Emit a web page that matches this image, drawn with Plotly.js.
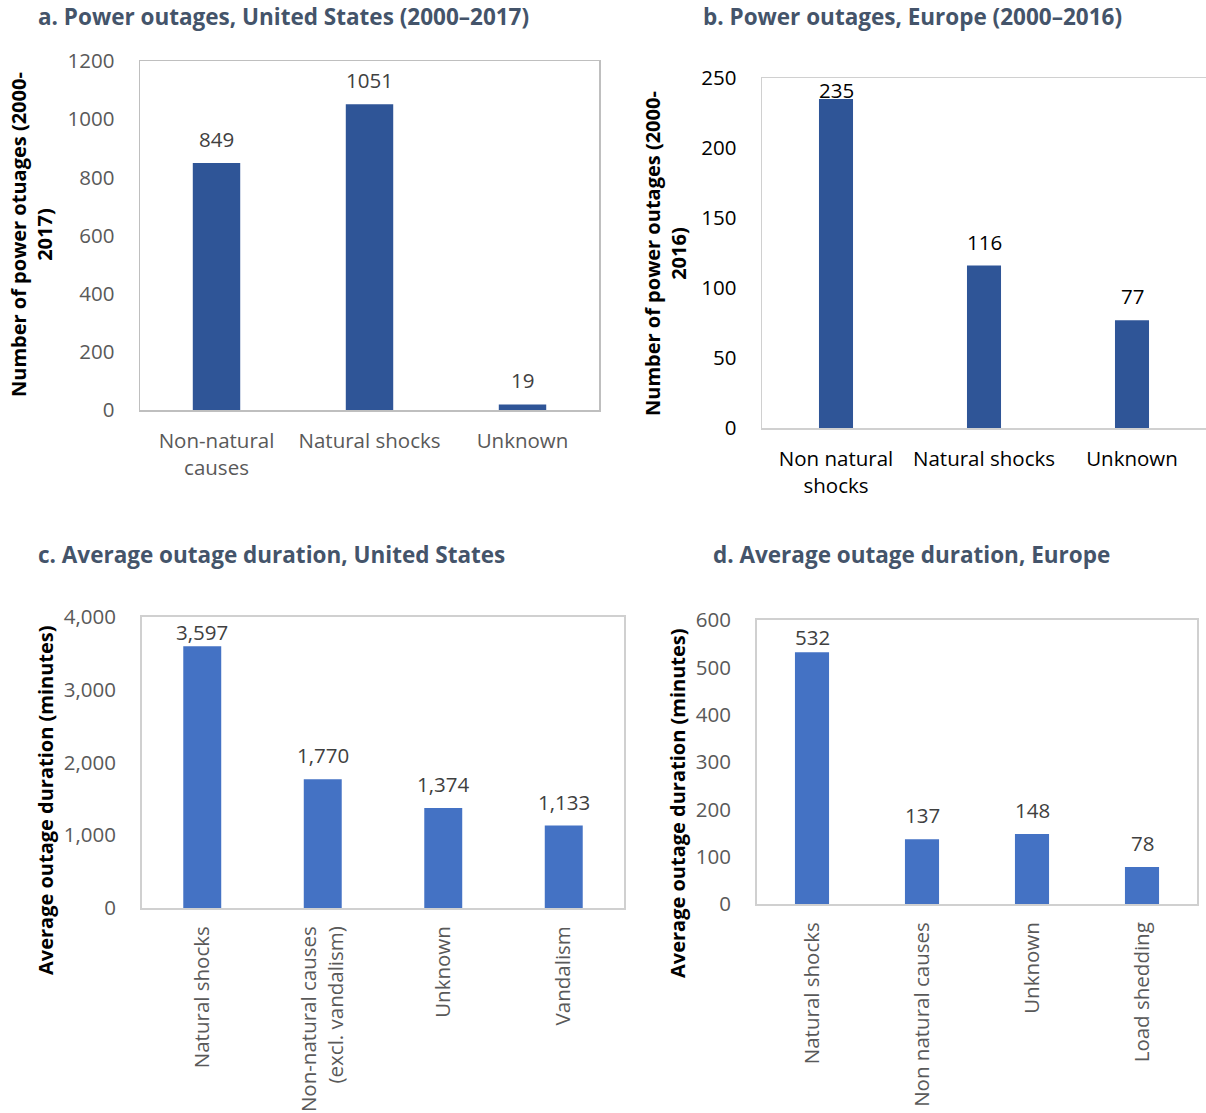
<!DOCTYPE html>
<html>
<head>
<meta charset="utf-8">
<script src="https://cdn.plot.ly/plotly-3.0.1.min.js"></script>
<style>
  html, body { margin: 0; padding: 0; background: #fff; }
  #chart { width: 1206px; height: 1113px; }
</style>
</head>
<body>
<div id="chart"></div>
<script>
// a. Power outages, United States (2000–2017)
const usCountCats = ['Non-natural<br>causes', 'Natural shocks', 'Unknown'];
const usCountVals = [849, 1051, 19];

// b. Power outages, Europe (2000–2016)
const euCountCats = ['Non natural<br>shocks', 'Natural shocks', 'Unknown'];
const euCountVals = [235, 116, 77];

// c. Average outage duration, United States (minutes)
const usDurCats = ['Natural shocks', 'Non-natural causes<br>(excl. vandalism)', 'Unknown', 'Vandalism'];
const usDurVals = [3597, 1770, 1374, 1133];

// d. Average outage duration, Europe (minutes)
const euDurCats = ['Natural shocks', 'Non natural causes', 'Unknown', 'Load shedding'];
const euDurVals = [532, 137, 148, 78];

const W = 1206, H = 1113;
const FONT = 'Open Sans, Noto Sans, DejaVu Sans, sans-serif';
const TITLE_COLOR = '#44546A';
const TXT = 20.5;

// panel geometry in pixels: [left, right, top, bottom]
const panels = [
  { id: '',  box: [140, 599, 61, 410],  cats: usCountCats, vals: usCountVals, ymax: 1200, dtick: 200,
    color: '#2F5597', width: 0.31, tickColor: '#595959', labelColor: '#404040', fmt: v => String(v),
    line: '#BFBFBF', lw: 1.5, mirrorY: true, angle: 0, tfmt: '', topPad: 15 },
  { id: '2', box: [762, 1207, 78, 428], cats: euCountCats, vals: euCountVals, ymax: 250, dtick: 50,
    color: '#2F5597', width: 0.23, tickColor: '#000000', labelColor: '#000000', fmt: v => String(v),
    line: '#D0D0D0', lw: 1.5, mirrorY: false, angle: 0, tfmt: '', topPad: 12 },
  { id: '3', box: [142, 624, 617, 908], cats: usDurCats, vals: usDurVals, ymax: 4000, dtick: 1000,
    color: '#4472C4', width: 0.315, tickColor: '#595959', labelColor: '#404040', fmt: v => v.toLocaleString('en-US'),
    line: '#D0D0D0', lw: 2, mirrorY: true, angle: -90, tfmt: ',', topPad: 15 },
  { id: '4', box: [757, 1197, 620, 904], cats: euDurCats, vals: euDurVals, ymax: 600, dtick: 100,
    color: '#4472C4', width: 0.31, tickColor: '#595959', labelColor: '#404040', fmt: v => String(v),
    line: '#D0D0D0', lw: 2, mirrorY: true, angle: -90, tfmt: '', topPad: 17 }
];

const data = [];
const layout = {
  width: W, height: H,
  margin: { l: 0, r: 0, t: 0, b: 0 },
  paper_bgcolor: '#ffffff', plot_bgcolor: '#ffffff',
  showlegend: false,
  font: { family: FONT, size: TXT, color: '#595959' },
  annotations: []
};

panels.forEach(p => {
  const [l, r, t, b] = p.box;
  const xa = 'xaxis' + p.id, ya = 'yaxis' + p.id;
  data.push({
    type: 'bar', x: p.cats, y: p.vals,
    xaxis: 'x' + p.id, yaxis: 'y' + p.id,
    width: p.width,
    marker: { color: p.color, line: { width: 0 } },
    hoverinfo: 'x+y'
  });
  layout[xa] = {
    domain: [l / W, Math.min(1, r / W)],
    anchor: 'y' + p.id,
    type: 'category',
    range: [-0.5, p.cats.length - 0.5],
    showgrid: false, zeroline: false,
    showline: true, mirror: true, linecolor: p.line, linewidth: p.lw,
    ticks: '', tickangle: p.angle,
    ticklabelstandoff: p.angle ? 8 : 12,
    tickfont: { family: FONT, size: TXT, color: p.tickColor },
    fixedrange: true
  };
  layout[ya] = {
    domain: [1 - b / H, 1 - t / H],
    anchor: 'x' + p.id,
    range: [0, p.ymax], dtick: p.dtick, tick0: 0,
    tickformat: p.tfmt,
    showgrid: false, zeroline: false,
    showline: true, mirror: p.mirrorY, linecolor: p.line, linewidth: p.lw,
    ticks: '', ticklabelstandoff: 20,
    tickfont: { family: FONT, size: TXT, color: p.tickColor },
    fixedrange: true
  };
  // value labels above each bar, kept inside the plot box near its top
  const pxPerUnit = (b - t) / p.ymax;
  p.cats.forEach((c, i) => {
    const v = p.vals[i];
    const shift = Math.min(24, (p.ymax - v) * pxPerUnit - p.topPad);
    layout.annotations.push({
      xref: 'x' + p.id, yref: 'y' + p.id, x: c, y: v,
      text: p.fmt(v), showarrow: false,
      yanchor: 'middle', yshift: shift,
      font: { family: FONT, size: TXT, color: p.labelColor }
    });
  });
});

// panel titles
const titles = [
  { text: 'a. Power outages, United States (2000–2017)', x: 37, y: 0 },
  { text: 'b. Power outages, Europe (2000–2016)', x: 702, y: 0 },
  { text: 'c. Average outage duration, United States', x: 37, y: 538 },
  { text: 'd. Average outage duration, Europe', x: 712, y: 538 }
];
titles.forEach(tt => layout.annotations.push({
  xref: 'paper', yref: 'paper', x: tt.x / W, y: 1 - tt.y / H,
  xanchor: 'left', yanchor: 'top', showarrow: false, borderpad: 0,
  text: '<b>' + tt.text + '</b>',
  font: { family: FONT, size: 22.5, color: TITLE_COLOR }
}));

// y-axis titles
const yTitles = [
  { text: 'Number of power otuages (2000-<br>2017)', x: 31, y: 235 },
  { text: 'Number of power outages (2000-<br>2016)', x: 666, y: 254 },
  { text: 'Average outage duration (minutes)', x: 45, y: 800 },
  { text: 'Average outage duration (minutes)', x: 677, y: 803 }
];
yTitles.forEach(tt => layout.annotations.push({
  xref: 'paper', yref: 'paper', x: tt.x / W, y: 1 - tt.y / H,
  xanchor: 'center', yanchor: 'middle', showarrow: false, textangle: -90,
  text: '<b>' + tt.text + '</b>',
  font: { family: FONT, size: 20, color: '#000000' }
}));

Plotly.newPlot('chart', data, layout, { staticPlot: true, displayModeBar: false });
</script>
</body>
</html>
